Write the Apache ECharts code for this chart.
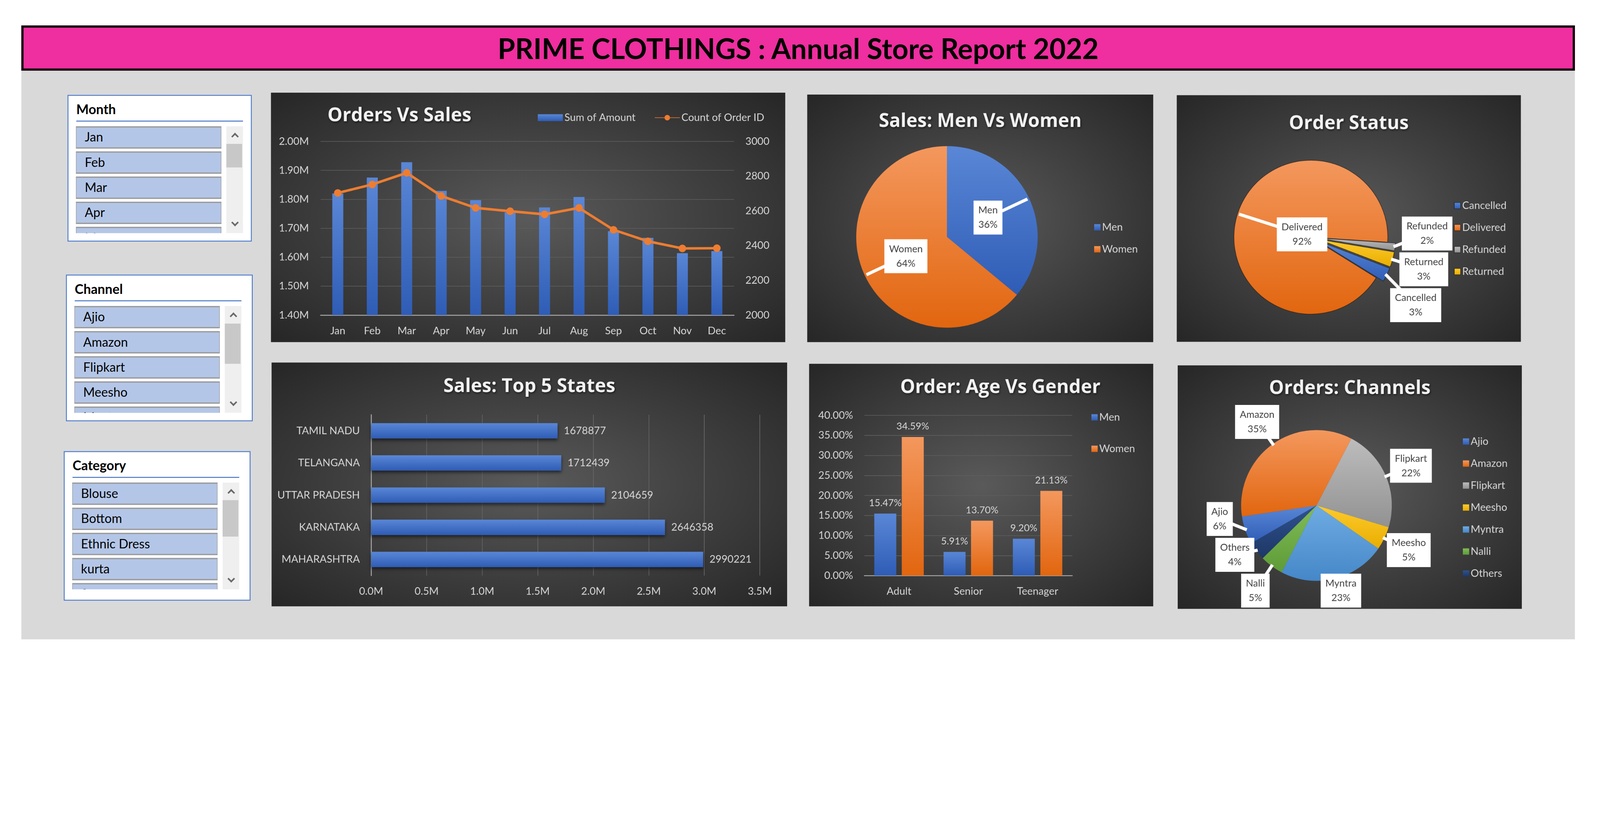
<!DOCTYPE html>
<html>
<head>
<meta charset="utf-8">
<title>PRIME CLOTHINGS : Annual Store Report 2022</title>
<script src="https://cdn.jsdelivr.net/npm/echarts@6/dist/echarts.min.js"></script>
<style>
  html, body { margin:0; padding:0; background:#fff; overflow:hidden; }
  #page { position:relative; width:5096px; height:2144px; transform-origin:0 0;
          font-family: Lato, 'Open Sans', sans-serif; }
  .abs { position:absolute; }
  #header { left:68px; top:81px; width:4948px; height:144px; box-sizing:border-box; border:7px solid #000;
            background:#EF2E9F; display:flex; align-items:center; justify-content:center;
            font-weight:bold; font-size:90px; color:#000; }
  #board { left:68px; top:225px; width:4948px; height:1810px; background:#D9D9D9; }
  .chart { background: radial-gradient(ellipse at 50% 50%, #5a5a5a 0%, #424242 45%, #262626 100%); }
  .slicer { background:#fff; border:3px solid #4F7BC9; box-sizing:border-box; }
  .sl-title { position:absolute; left:25px; top:14px; height:56px; line-height:56px; font-size:42px; font-weight:bold; color:#000; }
  .sl-rule { position:absolute; left:25px; top:79px; width:531px; height:3px; background:#4472C4; }
  .sl-list { position:absolute; left:0; top:0; width:500px; height:437px; overflow:hidden; }
  .sl-item { position:absolute; left:24px; width:463px; height:71px; box-sizing:border-box; background:#B4C6E7;
             border-top:4px solid #9A9A9A; border-bottom:4px solid #9A9A9A; border-left:2px solid #A8A8A8; border-right:2px solid #A8A8A8;
             font-size:40px; line-height:61px; padding-left:26px; color:#000; }
  .sl-track { position:absolute; left:503px; top:97px; width:53px; height:340px; background:#EFEFEF; }
  .sl-thumb { position:absolute; left:0; width:50px; background:#C8C8C8; }
  .sl-arrow { position:absolute; left:19px; width:12px; height:12px; border-left:5px solid #6A6A6A; border-top:5px solid #6A6A6A; }
</style>
</head>
<body>
<div id="page">
<div id="header" class="abs">PRIME CLOTHINGS : Annual Store Report 2022</div>
<div id="board" class="abs"></div>

<div id="slMonth" class="slicer abs" style="left:215px;top:302px;width:587px;height:467px;"></div>
<div id="slChannel" class="slicer abs" style="left:210px;top:874px;width:595px;height:467px;"></div>
<div id="slCategory" class="slicer abs" style="left:203px;top:1436px;width:595px;height:476px;"></div>

<div id="ovs" class="chart abs" style="left:863px;top:295px;width:1638px;height:794px;"></div>
<div id="mvw" class="chart abs" style="left:2571px;top:301px;width:1102px;height:788px;"></div>
<div id="orderStatus" class="chart abs" style="left:3748px;top:303px;width:1096px;height:785px;"></div>
<div id="states" class="chart abs" style="left:865px;top:1154px;width:1642px;height:776px;"></div>
<div id="age" class="chart abs" style="left:2577px;top:1158px;width:1096px;height:772px;"></div>
<div id="channels" class="chart abs" style="left:3751px;top:1163px;width:1096px;height:775px;"></div>
</div>

<script type="text/javascript">
// data
var months = ['Jan','Feb','Mar','Apr','May','Jun','Jul','Aug','Sep','Oct','Nov','Dec'];
var salesAmount = [1820000, 1875000, 1928000, 1829000, 1797000, 1755000, 1772000, 1808000, 1690000, 1667000, 1614000, 1621000];
var orderCount = [2703, 2752, 2819, 2686, 2617, 2598, 2580, 2617, 2491, 2425, 2384, 2385];

var genderNames = ['Men', 'Women'];
var genderSales = [36, 64];

var statusNames = ['Cancelled', 'Delivered', 'Refunded', 'Returned'];
var statusShare = [3.0, 92.2, 1.6, 3.2];

var stateNames = ['MAHARASHTRA', 'KARNATAKA', 'UTTAR PRADESH', 'TELANGANA', 'TAMIL NADU'];
var stateSales = [2990221, 2646358, 2104659, 1712439, 1678877];

var ageGroups = ['Adult', 'Senior', 'Teenager'];
var menShare = [15.47, 5.91, 9.20];
var womenShare = [34.59, 13.70, 21.13];

var channelNames = ['Ajio', 'Amazon', 'Flipkart', 'Meesho', 'Myntra', 'Nalli', 'Others'];
var channelShare = [6, 35, 22, 5, 23, 5, 4];

var monthItems = months.slice(0, 5);
var channelItems = channelNames.slice(0, 5);
var categoryItems = ['Blouse', 'Bottom', 'Ethnic Dress', 'kurta', 'Saree'];

// the layout is drawn at 5096 x 2144 and fitted to the window
var fit = Math.min(window.innerWidth / 5096, window.innerHeight / 2144);
document.getElementById('page').style.transform = 'scale(' + fit + ')';

var FONT = 'Lato';
var TITLE_FONT = 'Open Sans';
var LABEL = '#D9D9D9';

// slicers (plain html)
function buildSlicer(id, title, items, thumbTop, thumbH) {
    var el = document.getElementById(id);
    var html = '<div class="sl-title">' + title + '</div><div class="sl-rule"></div><div class="sl-list">';
    for (var i = 0; i < items.length; i++) {
        html += '<div class="sl-item" style="top:' + (97 + i * 80) + 'px">' + items[i] + '</div>';
    }
    html += '</div><div class="sl-track">' +
        '<div class="sl-arrow" style="top:24px;transform:rotate(45deg)"></div>' +
        '<div class="sl-thumb" style="top:' + thumbTop + 'px;height:' + thumbH + 'px"></div>' +
        '<div class="sl-arrow" style="top:298px;transform:rotate(225deg)"></div></div>';
    el.innerHTML = html;
}
buildSlicer('slMonth', 'Month', monthItems, 56, 75);
buildSlicer('slChannel', 'Channel', channelItems, 56, 128);
buildSlicer('slCategory', 'Category', categoryItems, 56, 116);

function vgrad(a, b) {
    return new echarts.graphic.LinearGradient(0, 0, 0, 1, [{offset: 0, color: a}, {offset: 1, color: b}]);
}
var C = {
    blue: vgrad('#5A87D6', '#2F5DB6'),
    orange: vgrad('#F4985E', '#E2660F'),
    gray: vgrad('#BDBDBD', '#929292'),
    gold: vgrad('#FFCB2E', '#E8AE00'),
    sky: vgrad('#6FACE3', '#4587C8'),
    green: vgrad('#80BC57', '#5F9C38'),
    navy: vgrad('#2F5390', '#1E3766')
};

var titleText = {
    color: '#F2F2F2', fontSize: 60, fontWeight: 'bold', fontFamily: TITLE_FONT,
    textShadowColor: 'rgba(0,0,0,0.6)', textShadowBlur: 6, textShadowOffsetX: 2, textShadowOffsetY: 3
};
var axisText = { color: LABEL, fontSize: 33, fontFamily: FONT };
var legendText = { color: LABEL, fontSize: 33, fontFamily: FONT };

var boxLabel = {
    show: true, position: 'outside', formatter: '{b}\n{d}%',
    backgroundColor: '#FFFFFF', color: '#404040', fontSize: 31, fontFamily: FONT,
    lineHeight: 46, padding: [8, 15]
};
var BOX_H = 2 * boxLabel.lineHeight + 2 * boxLabel.padding[0];
var boxLine = { show: true, showAbove: true, length: 10, length2: 0, lineStyle: { color: '#FFFFFF', width: 10 } };

// callout placement for pie labels: along the slice middle, pointer to the rim,
// outside boxes on the same side are pushed apart and kept inside the chart
function callout(values, startAngle, cx, cy, r, reach, chartH, offset, picked) {
    var total = values.reduce(function (a, b) { return a + b; }, 0);
    var spots = [], before = 0;
    values.forEach(function (v, i) {
        var mid = (startAngle - (before + v / 2) / total * 360) * Math.PI / 180;
        before += v;
        var dx = Math.cos(mid), dy = -Math.sin(mid);
        var shift = picked && picked[i] ? offset : 0;
        var k = reach(v / total), d = k * r + shift;
        spots.push({ x: cx + dx * d, y: cy + dy * d, ex: cx + dx * (r * 0.98 + shift), ey: cy + dy * (r * 0.98 + shift), out: k > 1 });
    });
    var gap = BOX_H + 6, lo = BOX_H / 2 + 4, hi = chartH - BOX_H / 2 - 4;
    [true, false].forEach(function (right) {
        var g = spots.filter(function (s) { return s.out && (s.x >= cx) === right; })
                     .sort(function (a, b) { return a.y - b.y; });
        for (var pass = 0; pass < 60; pass++) {
            for (var j = 1; j < g.length; j++) {
                var lack = gap - (g[j].y - g[j - 1].y);
                if (lack > 0) { g[j].y += lack / 2; g[j - 1].y -= lack / 2; }
            }
            g.forEach(function (s) { s.y = Math.max(lo, Math.min(hi, s.y)); });
        }
    });
    return function (params) {
        var s = spots[params.dataIndex];
        return { x: s.x, y: s.y, align: 'center', verticalAlign: 'middle',
                 labelLinePoints: [[s.ex, s.ey], [s.x, s.y], [s.x, s.y]] };
    };
}

// clear copy of a pie that only carries the callout boxes, drawn above the slices
function labelPie(names, values, center, r, startAngle, layout) {
    return {
        type: 'pie', z: 3, silent: true, legendHoverLink: false,
        center: center, radius: r, startAngle: startAngle, clockwise: true,
        avoidLabelOverlap: false, percentPrecision: 0,
        data: names.map(function (n, i) {
            return { name: n, value: values[i], itemStyle: { color: 'rgba(0,0,0,0)', borderWidth: 0 } };
        }),
        label: boxLabel, labelLine: boxLine, labelLayout: layout,
        emphasis: { disabled: true }
    };
}

// Orders Vs Sales
var ovs = echarts.init(document.getElementById('ovs'));
ovs.setOption({
    backgroundColor: 'transparent',
    title: { text: 'Orders Vs Sales', left: 180, top: 44, padding: 0, textStyle: titleText },
    legend: {
        right: 62, top: 58, itemGap: 60, itemWidth: 80, itemHeight: 22,
        textStyle: legendText,
        data: [{ name: 'Sum of Amount', icon: 'rect' }, { name: 'Count of Order ID' }]
    },
    grid: { left: 158, right: 163, top: 155, bottom: 86 },
    xAxis: {
        type: 'category', data: months,
        axisLine: { lineStyle: { color: '#A6A6A6', width: 3 } },
        axisTick: { show: false },
        axisLabel: Object.assign({ margin: 34 }, axisText)
    },
    yAxis: [{
        type: 'value', min: 1400000, max: 2000000, interval: 100000,
        axisLine: { show: false }, axisTick: { show: false },
        splitLine: { lineStyle: { color: '#5E5E5E', width: 2 } },
        axisLabel: Object.assign({ margin: 37, formatter: function (v) { return (v / 1e6).toFixed(2) + 'M'; } }, axisText)
    }, {
        type: 'value', min: 2000, max: 3000, interval: 200,
        axisLine: { show: false }, axisTick: { show: false }, splitLine: { show: false },
        axisLabel: Object.assign({ margin: 36, formatter: function (v) { return String(v); } }, axisText)
    }],
    series: [{
        name: 'Sum of Amount', type: 'bar', data: salesAmount, barWidth: 35,
        itemStyle: { color: C.blue }
    }, {
        name: 'Count of Order ID', type: 'line', yAxisIndex: 1, data: orderCount,
        symbol: 'circle', symbolSize: 24,
        lineStyle: { color: '#ED7D31', width: 8 },
        itemStyle: { color: '#ED7D31' }
    }]
});

// Sales: Men Vs Women
var mvw = echarts.init(document.getElementById('mvw'));
var mvwCenter = [445, 453], mvwR = 289;
var mvwColors = [C.blue, C.orange];
mvw.setOption({
    title: { text: 'Sales: Men Vs Women', left: 'center', top: 56, padding: 0, textStyle: titleText },
    legend: {
        orient: 'vertical', left: 909, top: 401, itemGap: 37, itemWidth: 20, itemHeight: 20, icon: 'rect',
        textStyle: legendText,
        data: genderNames.map(function (n, i) { return { name: n, itemStyle: { color: mvwColors[i] } }; })
    },
    series: [{
        type: 'pie', z: 2, center: mvwCenter, radius: mvwR, startAngle: 90, clockwise: true,
        data: genderNames.map(function (n, i) { return { name: n, value: genderSales[i], itemStyle: { color: mvwColors[i] } }; }),
        label: { show: false }, labelLine: { show: false },
        emphasis: { disabled: true }
    }, labelPie(genderNames, genderSales, mvwCenter, mvwR, 90,
        callout(genderSales, 90, mvwCenter[0], mvwCenter[1], mvwR, function () { return 0.5; }, 788))]
});

// Order Status: small slices pulled out
var statusChart = echarts.init(document.getElementById('orderStatus'));
var stCenter = [427, 452], stR = 245, stStart = -21, stPull = 25;
var stPicked = statusShare.map(function (v) { return v < 50; });
var stColors = [C.blue, C.orange, C.gray, C.gold];
statusChart.setOption({
    title: { text: 'Order Status', left: 'center', top: 61, padding: 0, textStyle: titleText },
    legend: {
        orient: 'vertical', left: 878, top: 330, itemGap: 37, itemWidth: 20, itemHeight: 20, icon: 'rect',
        textStyle: legendText,
        data: statusNames.map(function (n, i) { return { name: n, itemStyle: { color: stColors[i] } }; })
    },
    series: [{
        type: 'pie', z: 2, center: stCenter, radius: stR, startAngle: stStart, clockwise: true,
        selectedMode: 'multiple', selectedOffset: stPull,
        data: statusNames.map(function (n, i) {
            return { name: n, value: statusShare[i], selected: stPicked[i], itemStyle: { color: stColors[i] } };
        }),
        itemStyle: { borderColor: 'rgba(30,30,30,0.7)', borderWidth: 2 },
        label: { show: false }, labelLine: { show: false },
        emphasis: { disabled: true }
    }, labelPie(statusNames, statusShare, stCenter, stR, stStart,
        callout(statusShare, stStart, stCenter[0], stCenter[1], stR,
            function (share) { return share > 0.5 ? 0.12 : 1.42; }, 785, stPull, stPicked))]
});

// Sales: Top 5 States
var states = echarts.init(document.getElementById('states'));
states.setOption({
    title: { text: 'Sales: Top 5 States', left: 'center', top: 47, padding: 0, textStyle: titleText },
    grid: { left: 317, right: 87, top: 166, bottom: 98 },
    xAxis: {
        type: 'value', min: 0, max: 3500000, interval: 500000,
        axisLine: { show: false }, axisTick: { show: false },
        splitLine: { lineStyle: { color: '#666666', width: 2 } },
        axisLabel: Object.assign({ margin: 34, formatter: function (v) { return (v / 1e6).toFixed(1) + 'M'; } }, axisText)
    },
    yAxis: {
        type: 'category', data: stateNames,
        axisLine: { lineStyle: { color: '#A6A6A6', width: 3 } }, axisTick: { show: false },
        axisLabel: Object.assign({ margin: 36 }, axisText)
    },
    series: [{
        type: 'bar', data: stateSales, barWidth: 49,
        itemStyle: { color: C.blue, shadowColor: 'rgba(0,0,0,0.55)', shadowBlur: 10, shadowOffsetY: 6 },
        label: { show: true, position: 'right', distance: 20, color: LABEL, fontSize: 33, fontFamily: FONT }
    }]
});

// Order: Age Vs Gender
var age = echarts.init(document.getElementById('age'));
var pctLabel = { show: true, position: 'top', distance: 18, color: LABEL, fontSize: 31, fontFamily: FONT,
                 formatter: function (p) { return p.value.toFixed(2) + '%'; } };
age.setOption({
    title: { text: 'Order: Age Vs Gender', left: 290, top: 46, padding: 0, textStyle: titleText },
    legend: {
        orient: 'vertical', left: 894, top: 149, itemGap: 67, itemWidth: 20, itemHeight: 20, icon: 'rect',
        textStyle: legendText
    },
    grid: { left: 176, right: 258, top: 164, bottom: 98 },
    xAxis: {
        type: 'category', data: ageGroups,
        axisLine: { lineStyle: { color: '#A6A6A6', width: 3 } }, axisTick: { show: false },
        axisLabel: Object.assign({ margin: 34 }, axisText)
    },
    yAxis: {
        type: 'value', min: 0, max: 40, interval: 5,
        axisLine: { show: false }, axisTick: { show: false },
        splitLine: { lineStyle: { color: '#5E5E5E', width: 2 } },
        axisLabel: Object.assign({ margin: 36, formatter: function (v) { return v.toFixed(2) + '%'; } }, axisText)
    },
    series: [{
        name: 'Men', type: 'bar', data: menShare, barWidth: 70, barGap: '25%',
        itemStyle: { color: C.blue }, label: pctLabel
    }, {
        name: 'Women', type: 'bar', data: womenShare, barWidth: 70,
        itemStyle: { color: C.orange }, label: pctLabel
    }]
});

// Orders: Channels
var channels = echarts.init(document.getElementById('channels'));
var chCenter = [442, 446], chR = 240, chStart = 210;
var chColors = [C.blue, C.orange, C.gray, C.gold, C.sky, C.green, C.navy];
channels.setOption({
    title: { text: 'Orders: Channels', left: 'center', top: 44, padding: 0, textStyle: titleText },
    legend: {
        orient: 'vertical', left: 903, top: 221, itemGap: 37, itemWidth: 20, itemHeight: 20, icon: 'rect',
        textStyle: legendText,
        data: channelNames.map(function (n, i) { return { name: n, itemStyle: { color: chColors[i] } }; })
    },
    series: [{
        type: 'pie', z: 2, center: chCenter, radius: chR, startAngle: chStart, clockwise: true,
        data: channelNames.map(function (n, i) { return { name: n, value: channelShare[i], itemStyle: { color: chColors[i] } }; }),
        label: { show: false }, labelLine: { show: false },
        emphasis: { disabled: true }
    }, labelPie(channelNames, channelShare, chCenter, chR, chStart,
        callout(channelShare, chStart, chCenter[0], chCenter[1], chR, function () { return 1.36; }, 775))]
});
</script>
</body>
</html>
